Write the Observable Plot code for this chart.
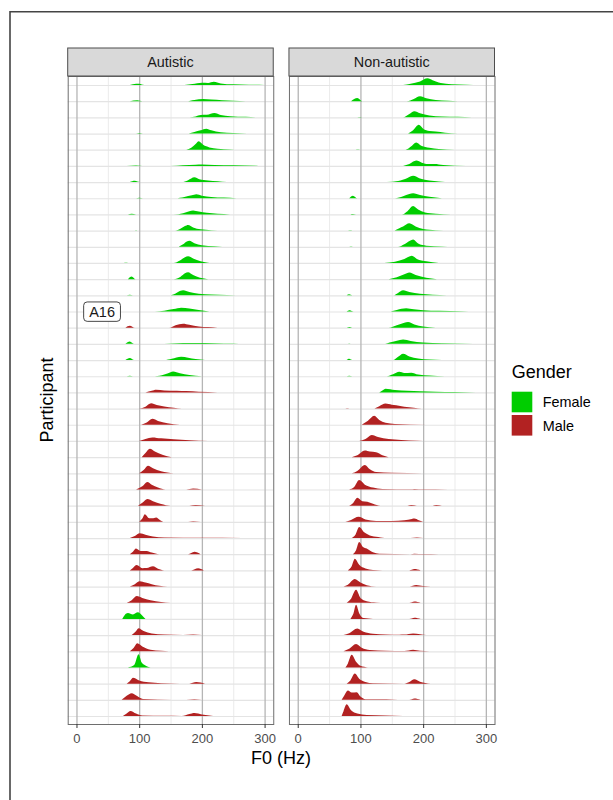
<!DOCTYPE html>
<html>
<head>
<meta charset="utf-8">
<script src="https://cdn.jsdelivr.net/npm/d3@7"></script>
<script src="https://cdn.jsdelivr.net/npm/@observablehq/plot@0.6"></script>
<style>
  html, body { margin: 0; padding: 0; background: #fff; }
  body { width: 613px; height: 800px; overflow: hidden; }
</style>
</head>
<body>
<div id="chart"></div>
<script>
// ---------- data ----------
const panels = ["Autistic", "Non-autistic"];
const genders = ["Female", "Male"];
const genderColors = ["#00CD00", "#B22222"];
const genderCode = {F: "Female", M: "Male"};
const xTicks = [0, 100, 200, 300];
const xMinorTicks = [50, 150, 250];

const autisticIds = ["A22","A9","A31","A4","A27","A13","A38","A6","A19","A35",
  "A2","A25","A11","A33","A16","A8","A29","A14","A40","A5",
  "A20","A37","A1","A28","A10","A34","A17","A3","A24","A39",
  "A12","A30","A7","A21","A36","A15","A26","A18","A32","A23"];
const autisticGender = ["F","F","F","F","F","F","F","F","F","F",
  "F","F","F","F","F","M","F","F","F","M",
  "M","M","M","M","M","M","M","M","M","M",
  "M","M","M","F","M","M","F","M","M","M"];
// each row: [F0 (Hz), ridge height]
const autisticCurves = [
  [[85,0],[95,0.07],[100,0.08],[108,0],[172,0],[185,0.06],[200,0.14],[210,0.13],[219,0.2],[230,0.1],[250,0.04],[275,0.02],[300,0]],
  [[85,0],[97,0.06],[105,0],[175,0],[188,0.08],[202,0.13],[215,0.1],[232,0.06],[250,0.02],[270,0]],
  [[180,0],[190,0.06],[198,0.15],[208,0.16],[220,0.27],[230,0.15],[245,0.07],[270,0.03],[295,0]],
  [[95,0],[100,0.03],[106,0],[176,0],[188,0.1],[198,0.2],[207,0.3],[215,0.2],[230,0.08],[250,0.03],[272,0]],
  [[175,0],[183,0.12],[190,0.35],[195,0.52],[202,0.3],[212,0.14],[225,0.06],[245,0.02],[260,0]],
  [[80,0],[95,0.03],[105,0],[150,0],[170,0.04],[190,0.07],[200,0.08],[220,0.06],[250,0.04],[290,0]],
  [[85,0],[93,0.08],[101,0],[168,0],[178,0.12],[188,0.3],[196,0.18],[210,0.1],[225,0.05],[240,0]],
  [[95,0],[100,0.03],[106,0],[158,0],[172,0.08],[184,0.18],[191,0.25],[200,0.16],[215,0.08],[235,0.04],[255,0]],
  [[82,0],[88,0.04],[95,0],[155,0],[170,0.08],[180,0.2],[186,0.25],[195,0.18],[208,0.1],[225,0.04],[245,0]],
  [[90,0],[95,0.03],[100,0],[155,0],[165,0.1],[173,0.28],[178,0.35],[186,0.2],[198,0.08],[215,0.03],[235,0]],
  [[163,0],[170,0.15],[176,0.33],[180,0.37],[188,0.22],[200,0.1],[220,0.04],[245,0]],
  [[75,0],[80,0.02],[85,0],[155,0],[165,0.15],[173,0.35],[178,0.41],[186,0.28],[198,0.1],[212,0]],
  [[82,0],[88,0.16],[94,0],[155,0],[166,0.15],[173,0.36],[178,0.43],[186,0.25],[197,0.08],[210,0]],
  [[80,0],[85,0.03],[90,0],[148,0],[158,0.12],[166,0.28],[170,0.31],[180,0.2],[195,0.1],[215,0.05],[240,0.02],[270,0]],
  [[125,0],[140,0.05],[155,0.15],[167,0.23],[180,0.18],[195,0.09],[212,0]],
  [[78,0],[85,0.12],[93,0],[148,0],[158,0.15],[170,0.25],[180,0.18],[195,0.08],[210,0.04],[225,0]],
  [[78,0],[85,0.15],[92,0],[130,0],[150,0.03],[170,0.06],[190,0.05],[220,0.04],[250,0.02],[268,0]],
  [[78,0],[85,0.13],[92,0],[140,0],[152,0.08],[167,0.2],[178,0.15],[190,0.07],[205,0]],
  [[80,0],[85,0.03],[90,0],[125,0],[140,0.1],[150,0.25],[154,0.29],[165,0.18],[180,0.08],[200,0]],
  [[110,0],[120,0.1],[127,0.17],[140,0.12],[160,0.1],[175,0.08],[195,0.04],[225,0]],
  [[100,0],[110,0.12],[119,0.33],[128,0.22],[140,0.13],[155,0.05],[168,0]],
  [[103,0],[112,0.14],[121,0.37],[130,0.24],[145,0.1],[165,0]],
  [[100,0],[110,0.12],[121,0.22],[135,0.16],[155,0.1],[180,0.05],[210,0]],
  [[104,0],[110,0.25],[117,0.52],[125,0.35],[137,0.15],[152,0]],
  [[100,0],[107,0.2],[114,0.47],[122,0.32],[135,0.13],[155,0]],
  [[95,0],[105,0.2],[113,0.47],[120,0.3],[130,0.12],[142,0],[175,0],[186,0.06],[200,0]],
  [[98,0],[105,0.18],[113,0.41],[122,0.28],[135,0.1],[150,0],[180,0],[190,0.04],[205,0]],
  [[100,0],[105,0.2],[109,0.47],[116,0.22],[121,0.22],[127,0.27],[133,0.12],[140,0],[178,0],[186,0.04],[198,0]],
  [[85,0],[93,0.12],[101,0.29],[110,0.2],[122,0.09],[140,0.03],[200,0.01],[265,0]],
  [[85,0],[90,0.15],[95,0.35],[102,0.2],[112,0.2],[120,0.1],[132,0],[178,0],[188,0.15],[198,0]],
  [[85,0],[90,0.15],[96,0.33],[105,0.13],[112,0.14],[122,0.25],[130,0.1],[140,0],[183,0],[194,0.13],[203,0]],
  [[85,0],[93,0.15],[101,0.33],[110,0.25],[120,0.15],[132,0.05],[145,0]],
  [[80,0],[88,0.15],[96,0.41],[105,0.3],[118,0.15],[135,0.04],[150,0]],
  [[73,0],[77,0.25],[82,0.37],[90,0.28],[98,0.41],[104,0.25],[110,0]],
  [[88,0],[94,0.2],[99,0.43],[107,0.25],[120,0.1],[140,0.03],[170,0],[186,0.04],[200,0]],
  [[85,0],[91,0.2],[97,0.5],[105,0.3],[118,0.1],[135,0.04],[160,0]],
  [[82,0],[92,0.15],[99,0.82],[104,0.3],[112,0.08],[118,0]],
  [[80,0],[85,0.15],[90,0.37],[100,0.2],[115,0.08],[135,0.03],[165,0],[180,0],[191,0.1],[205,0]],
  [[72,0],[80,0.25],[88,0.41],[96,0.25],[106,0.05],[130,0.02],[175,0],[188,0.04],[200,0]],
  [[74,0],[80,0.15],[86,0.31],[95,0.15],[105,0.03],[140,0.01],[168,0],[180,0.12],[188,0.19],[200,0.1],[218,0]]
];

const nonAutisticIds = ["N14","N3","N27","N9","N36","N1","N22","N18","N31","N6",
  "N11","N39","N25","N4","N33","N16","N8","N29","N20","N12",
  "N35","N2","N24","N15","N38","N7","N30","N19","N10","N26",
  "N40","N5","N21","N34","N13","N28","N17","N37","N23","N32"];
const nonAutisticGender = ["F","F","F","F","F","F","F","F","F","F",
  "F","F","F","F","F","F","F","F","F","F",
  "M","M","M","M","M","M","M","M","M","M",
  "M","M","M","M","M","M","M","M","M","M"];
const nonAutisticCurves = [
  [[168,0],[180,0.08],[195,0.22],[207,0.41],[215,0.3],[228,0.12],[245,0.05],[270,0.02],[290,0]],
  [[85,0],[95,0.2],[103,0],[174,0],[185,0.14],[195,0.31],[205,0.18],[220,0.08],[240,0.02],[255,0]],
  [[95,0],[100,0.02],[105,0],[168,0],[178,0.2],[186,0.37],[195,0.25],[210,0.12],[230,0.06],[255,0.04],[278,0]],
  [[176,0],[184,0.2],[193,0.54],[200,0.3],[210,0.15],[220,0.12],[235,0.05],[255,0]],
  [[92,0],[97,0.02],[102,0],[172,0],[180,0.18],[189,0.45],[197,0.25],[210,0.12],[225,0.05],[250,0]],
  [[168,0],[178,0.12],[189,0.33],[198,0.2],[208,0.12],[218,0.12],[232,0.06],[268,0]],
  [[142,0],[160,0.06],[175,0.25],[184,0.39],[195,0.22],[210,0.1],[225,0.04],[245,0]],
  [[82,0],[88,0.16],[95,0],[155,0],[168,0.12],[178,0.26],[184,0.31],[195,0.2],[210,0.1],[230,0]],
  [[84,0],[88,0.02],[93,0],[166,0],[175,0.2],[184,0.52],[192,0.3],[203,0.12],[220,0.04],[245,0]],
  [[80,0],[85,0.02],[90,0],[152,0],[162,0.15],[168,0.25],[178,0.45],[188,0.25],[200,0.1],[220,0.03],[245,0]],
  [[82,0],[86,0.02],[90,0],[160,0],[170,0.15],[179,0.38],[184,0.45],[192,0.2],[205,0.07],[230,0.02],[248,0]],
  [[138,0],[155,0.08],[170,0.25],[182,0.45],[190,0.25],[205,0.1],[225,0]],
  [[145,0],[158,0.12],[170,0.3],[178,0.41],[188,0.25],[205,0.08],[222,0]],
  [[78,0],[82,0.06],[87,0],[152,0],[160,0.15],[168,0.31],[178,0.2],[195,0.1],[215,0.04],[260,0]],
  [[78,0],[83,0.08],[89,0],[145,0],[158,0.1],[173,0.2],[185,0.14],[200,0.08],[225,0.04],[260,0.02],[285,0]],
  [[78,0],[83,0.05],[88,0],[145,0],[158,0.15],[170,0.3],[176,0.35],[186,0.2],[200,0.08],[220,0]],
  [[78,0],[82,0.03],[87,0],[136,0],[150,0.12],[163,0.24],[168,0.27],[180,0.18],[200,0.08],[230,0.04],[280,0]],
  [[78,0],[82,0.08],[87,0],[152,0],[160,0.2],[168,0.39],[178,0.22],[192,0.1],[210,0.03],[230,0]],
  [[78,0],[82,0.03],[87,0],[142,0],[152,0.12],[162,0.27],[170,0.2],[181,0.22],[192,0.1],[210,0.04],[235,0]],
  [[130,0],[135,0.12],[140,0.23],[155,0.15],[175,0.1],[195,0.07],[220,0.04],[250,0.02],[284,0]],
  [[76,0],[80,0.02],[85,0],[120,0],[130,0.15],[140,0.31],[150,0.24],[157,0.2],[170,0.12],[185,0.05],[198,0]],
  [[102,0],[112,0.25],[122,0.56],[130,0.3],[140,0.12],[155,0.05],[180,0.02],[230,0]],
  [[98,0],[108,0.12],[118,0.37],[128,0.25],[145,0.12],[165,0.06],[190,0.02],[210,0]],
  [[86,0],[95,0.12],[107,0.41],[115,0.35],[125,0.3],[135,0.12],[145,0]],
  [[86,0],[95,0.15],[107,0.52],[115,0.25],[125,0.08],[150,0.03],[200,0]],
  [[82,0],[90,0.15],[98,0.58],[107,0.3],[120,0.12],[135,0.03],[180,0.01],[186,0.03],[200,0.01],[240,0]],
  [[82,0],[88,0.15],[95,0.49],[103,0.28],[111,0.25],[120,0.12],[132,0],[175,0],[181,0.04],[190,0],[215,0],[221,0.04],[230,0]],
  [[76,0],[85,0.12],[97,0.31],[108,0.15],[125,0.06],[150,0.06],[170,0.1],[182,0.18],[186,0.2],[193,0.1],[200,0]],
  [[86,0],[92,0.2],[98,0.68],[106,0.35],[118,0.12],[132,0.04],[145,0],[180,0],[190,0.03],[200,0]],
  [[88,0],[93,0.25],[98,0.76],[104,0.45],[110,0.35],[120,0.12],[130,0.03],[180,0],[186,0.03],[200,0.01],[225,0]],
  [[80,0],[86,0.25],[91,0.72],[98,0.35],[108,0.12],[120,0.03],[135,0],[178,0],[186,0.08],[196,0]],
  [[73,0],[80,0.12],[91,0.47],[100,0.25],[110,0.08],[125,0],[178,0],[189,0.1],[200,0.04],[225,0]],
  [[78,0],[85,0.25],[93,0.8],[100,0.3],[110,0.1],[125,0.02],[140,0],[178,0],[186,0.08],[196,0]],
  [[84,0],[89,0.35],[93,0.87],[98,0.35],[105,0.05],[120,0],[178,0],[186,0.08],[196,0]],
  [[73,0],[82,0.12],[95,0.41],[105,0.2],[120,0.08],[140,0.04],[162,0.02],[170,0.03],[184,0.1],[195,0.05],[205,0]],
  [[73,0],[82,0.15],[93,0.45],[102,0.22],[115,0.08],[140,0.04],[170,0.02],[184,0.1],[195,0.03],[210,0]],
  [[76,0],[80,0.25],[86,0.78],[93,0.35],[100,0.1],[112,0]],
  [[78,0],[84,0.2],[91,0.62],[98,0.3],[108,0.1],[120,0.02],[170,0],[178,0.1],[186,0.27],[195,0.12],[212,0]],
  [[70,0],[74,0.25],[80,0.58],[86,0.45],[94,0.47],[100,0.2],[108,0.04],[141,0.04],[160,0],[178,0],[186,0.08],[196,0]],
  [[70,0],[73,0.3],[78,0.72],[85,0.35],[95,0.15],[110,0.06],[140,0.03],[168,0]]
];

const notes = [{panel: "Autistic", participant: "A16", x: 40}];

// ---------- build tables ----------
const rows = [];
const points = [];
function addPanel(panel, ids, gcodes, curves) {
  ids.forEach((id, k) => {
    const base = ids.length - 1 - k;
    const gender = genderCode[gcodes[k]];
    rows.push({panel, participant: id, base, gender});
    curves[k].forEach(([hz, h]) => {
      points.push({panel, participant: id, key: panel + id, hz, base, top: base + h, gender});
    });
  });
}
addPanel(panels[0], autisticIds, autisticGender, autisticCurves);
addPanel(panels[1], nonAutisticIds, nonAutisticGender, nonAutisticCurves);
const baseOf = new Map(rows.map(r => [r.panel + r.participant, r.base]));

// ---------- plot ----------
const W = 613, H = 800;
const mL = 67.7, mR = 118.5, mT = 76, mB = 76;
const font = "'Liberation Sans', Arial, Helvetica, sans-serif";

const plot = Plot.plot({
  width: W, height: H,
  marginLeft: mL, marginRight: mR, marginTop: mT, marginBottom: mB,
  style: {fontFamily: font, fontSize: "13px", background: "transparent"},
  fx: {domain: panels, paddingInner: 0.071, paddingOuter: 0, round: false, axis: null, label: null},
  x: {domain: [-14, 313.8], label: null},
  y: {domain: [-0.494, 39.556], axis: null, label: null},
  color: {domain: genders, range: genderColors},
  marks: [
    Plot.ruleX(xMinorTicks, {stroke: "#ebebeb", strokeWidth: 1}),
    Plot.ruleY(rows, {y: "base", fx: "panel", stroke: "#e4e4e4", strokeWidth: 1.2}),
    Plot.ruleX(xTicks, {stroke: "#b5b5b5", strokeWidth: 1.3}),
    Plot.areaY(points, {x: "hz", y1: "base", y2: "top", z: "key", fx: "panel", fill: "gender", curve: "monotone-x"}),
    Plot.frame({stroke: "#6e6e6e", strokeWidth: 1}),
    Plot.axisX({ticks: xTicks, tickSize: 4, tickPadding: 5, fontSize: 13, color: "#4d4d4d", stroke: "#333", label: null}),
    Plot.text(notes, {x: "x", y: d => baseOf.get(d.panel + d.participant), fx: "panel", text: "participant",
      fontSize: 14.5, fill: "#1a1a1a"})
  ]
});

document.getElementById("chart").appendChild(plot);

// ---------- decorations ----------
const svg = d3.select(plot);
const fx = plot.scale("fx");
const NS = "http://www.w3.org/2000/svg";

// label boxes behind notes
const noteTexts = new Set(notes.map(d => d.participant));
Array.from(plot.querySelectorAll("text"))
  .filter(t => noteTexts.has(t.textContent) && t.children.length === 0)
  .forEach(t => {
    const bb = t.getBBox();
    const padX = 5.5, padY = 1.7;
    const r = document.createElementNS(NS, "rect");
    r.setAttribute("x", bb.x - padX);
    r.setAttribute("y", bb.y - padY);
    r.setAttribute("width", bb.width + 2 * padX);
    r.setAttribute("height", bb.height + 2 * padY);
    r.setAttribute("rx", 3.5);
    r.setAttribute("fill", "#fff");
    r.setAttribute("stroke", "#333");
    r.setAttribute("stroke-width", 0.9);
    const tr = t.getAttribute("transform");
    if (tr) r.setAttribute("transform", tr);
    t.parentNode.insertBefore(r, t);
  });

// facet strips
const strips = svg.append("g");
panels.forEach(p => {
  const x0 = fx.apply(p);
  strips.append("rect")
    .attr("x", x0).attr("y", 48).attr("width", fx.bandwidth).attr("height", mT - 48)
    .attr("fill", "#d9d9d9").attr("stroke", "#4d4d4d").attr("stroke-width", 1);
  strips.append("text")
    .attr("x", x0 + fx.bandwidth / 2).attr("y", 67)
    .attr("text-anchor", "middle").attr("fill", "#1a1a1a")
    .attr("font-size", 14.4).attr("font-family", font).text(p);
});

// axis titles
svg.append("text")
  .attr("x", (mL + (W - mR)) / 2).attr("y", 764)
  .attr("text-anchor", "middle").attr("font-size", 18).attr("font-family", font)
  .attr("fill", "#000").text("F0 (Hz)");
svg.append("text")
  .attr("transform", `translate(53,${(mT + H - mB) / 2}) rotate(-90)`)
  .attr("text-anchor", "middle").attr("font-size", 18).attr("font-family", font)
  .attr("fill", "#000").text("Participant");

// legend
const lg = svg.append("g").attr("text-anchor", "start");
lg.append("text").attr("x", 511.7).attr("y", 378).attr("font-size", 18)
  .attr("text-anchor", "start").attr("font-family", font).attr("fill", "#000").text("Gender");
genders.forEach((g, i) => {
  lg.append("rect").attr("x", 511.7).attr("y", 391.7 + i * 23.3)
    .attr("width", 20.6).attr("height", 20.6).attr("fill", genderColors[i]);
  lg.append("text").attr("x", 542.7).attr("y", 407.3 + i * 23.4).attr("font-size", 14.4)
    .attr("text-anchor", "start").attr("font-family", font).attr("fill", "#000").text(g);
});

// outer frame (top and left)
svg.append("path").attr("d", `M10,${H} L10,11.7 L${W},11.7`)
  .attr("fill", "none").attr("stroke", "#444").attr("stroke-width", 1.6);
</script>
</body>
</html>
